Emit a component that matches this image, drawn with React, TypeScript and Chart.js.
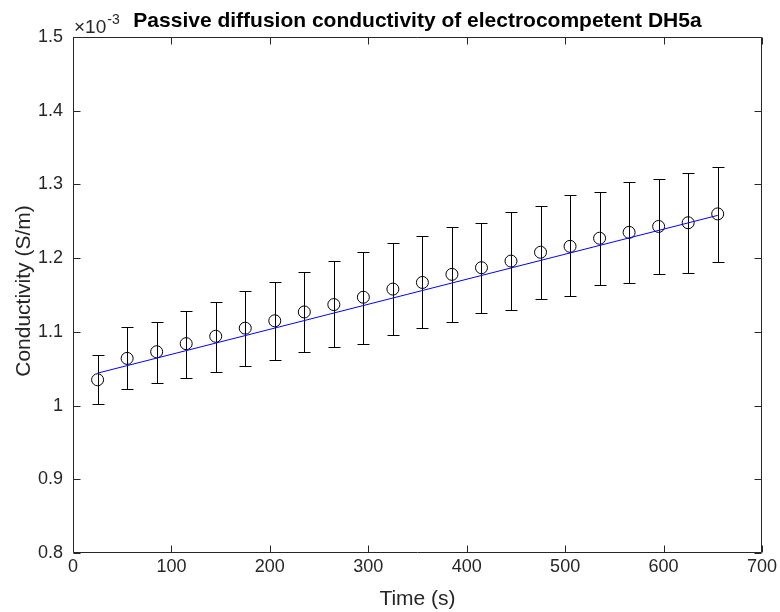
import React, { useEffect, useRef } from "react";
import { Chart, registerables } from "chart.js";

Chart.register(...registerables);

// ---- data (conductivity in units of 1e-3 S/m) ----
const timeS = [25, 55, 85, 115, 145, 175, 205, 235, 265, 295, 325, 355, 385, 415, 445, 475, 505, 535, 565, 595, 625, 655];
const conductivity = [1.035, 1.064, 1.073, 1.084, 1.094, 1.105, 1.115, 1.127, 1.137, 1.147, 1.158, 1.167, 1.178, 1.187, 1.196, 1.208, 1.216, 1.227, 1.235, 1.243, 1.248, 1.260];
const errUpper = [1.068, 1.106, 1.113, 1.128, 1.140, 1.155, 1.168, 1.181, 1.196, 1.208, 1.220, 1.230, 1.242, 1.247, 1.262, 1.271, 1.285, 1.290, 1.303, 1.307, 1.315, 1.323];
const errLower = [1.002, 1.022, 1.031, 1.038, 1.046, 1.054, 1.062, 1.072, 1.079, 1.084, 1.096, 1.105, 1.113, 1.126, 1.129, 1.145, 1.148, 1.163, 1.166, 1.179, 1.180, 1.195];
const fitTime = [25, 655];
const fitConductivity = [1.044, 1.258];
const xTicks = [0, 100, 200, 300, 400, 500, 600, 700];
const yTicks = [0.8, 0.9, 1.0, 1.1, 1.2, 1.3, 1.4, 1.5];

const titleText = "Passive diffusion conductivity of electrocompetent DH5a";
const xLabel = "Time (s)";
const yLabel = "Conductivity (S/m)";
const exponentBase = "\u00d710";
const exponentPow = "-3";

const FONT = "'Liberation Sans', Arial, Helvetica, sans-serif";
const AXIS_COLOR = "#262626";

const matlabDecor = {
  id: "matlabDecor",
  beforeDatasetsDraw(chart: any) {
    const { ctx, chartArea, scales } = chart;
    const xs = scales.x;
    const ys = scales.y;
    ctx.save();
    ctx.beginPath();
    ctx.rect(chartArea.left, chartArea.top, chartArea.right - chartArea.left, chartArea.bottom - chartArea.top);
    ctx.clip();
    ctx.strokeStyle = "#000000";
    ctx.lineWidth = 1;
    const cap = 6;
    for (let i = 0; i < timeS.length; i++) {
      const px = Math.round(xs.getPixelForValue(timeS[i])) + 0.5;
      const pt = Math.round(ys.getPixelForValue(errUpper[i])) + 0.5;
      const pb = Math.round(ys.getPixelForValue(errLower[i])) + 0.5;
      ctx.beginPath();
      ctx.moveTo(px, pt);
      ctx.lineTo(px, pb);
      ctx.moveTo(px - cap, pt);
      ctx.lineTo(px + cap, pt);
      ctx.moveTo(px - cap, pb);
      ctx.lineTo(px + cap, pb);
      ctx.stroke();
    }
    ctx.restore();
  },
  afterDraw(chart: any) {
    const { ctx, chartArea, scales } = chart;
    const { left, right, top, bottom } = chartArea;
    const xs = scales.x;
    const ys = scales.y;
    ctx.save();
    ctx.strokeStyle = AXIS_COLOR;
    ctx.lineWidth = 1;
    const L = Math.round(left) + 0.5;
    const R = Math.round(right) - 0.5;
    const T = Math.round(top) + 0.5;
    const B = Math.round(bottom) - 0.5;
    ctx.beginPath();
    ctx.rect(L, T, R - L, B - T);
    ctx.stroke();
    const tl = 7;
    ctx.beginPath();
    for (const v of xTicks) {
      const px = Math.round(xs.getPixelForValue(v)) + 0.5;
      ctx.moveTo(px, B);
      ctx.lineTo(px, B - tl);
      ctx.moveTo(px, T);
      ctx.lineTo(px, T + tl);
    }
    for (const v of yTicks) {
      const py = Math.round(ys.getPixelForValue(v)) + 0.5;
      ctx.moveTo(L, py);
      ctx.lineTo(L + tl, py);
      ctx.moveTo(R, py);
      ctx.lineTo(R - tl, py);
    }
    ctx.stroke();

    // title
    ctx.fillStyle = "#000000";
    ctx.font = `bold 21px ${FONT}`;
    ctx.textAlign = "center";
    ctx.textBaseline = "alphabetic";
    ctx.fillText(titleText, (left + right) / 2, 27);

    // exponent
    ctx.fillStyle = AXIS_COLOR;
    ctx.textAlign = "left";
    ctx.font = `19px ${FONT}`;
    ctx.fillText(exponentBase, left + 1, 33);
    const w = ctx.measureText(exponentBase).width;
    ctx.font = `14px ${FONT}`;
    ctx.fillText(exponentPow, left + 1 + w + 1, 24);

    // axis titles
    ctx.font = `21px ${FONT}`;
    ctx.textAlign = "center";
    ctx.textBaseline = "alphabetic";
    ctx.fillText(xLabel, (left + right) / 2, 605);
    ctx.save();
    ctx.translate(30, (top + bottom) / 2 - 4);
    ctx.rotate(-Math.PI / 2);
    ctx.fillText(yLabel, 0, 0);
    ctx.restore();
    ctx.restore();
  },
};

export default function App() {
  const canvasRef = useRef<HTMLCanvasElement | null>(null);

  useEffect(() => {
    const canvas = canvasRef.current;
    if (!canvas) return;
    const chart = new Chart(canvas, {
      type: "line",
      data: {
        datasets: [
          {
            label: "fit",
            data: fitTime.map((t, i) => ({ x: t, y: fitConductivity[i] })),
            borderColor: "#0000ff",
            borderWidth: 1,
            pointRadius: 0,
            fill: false,
          },
          {
            label: "data",
            data: timeS.map((t, i) => ({ x: t, y: conductivity[i] })),
            showLine: false,
            pointRadius: 6,
            pointBorderWidth: 1,
            pointBorderColor: "#000000",
            pointBackgroundColor: "rgba(0,0,0,0)",
          },
        ],
      },
      options: {
        responsive: false,
        animation: false,
        devicePixelRatio: 1,
        layout: { padding: { top: 37, right: 18, left: 0, bottom: 0 } },
        plugins: {
          legend: { display: false },
          tooltip: { enabled: false },
          title: { display: false },
        },
        scales: {
          x: {
            type: "linear",
            min: 0,
            max: 700,
            grid: { display: false, drawTicks: false },
            border: { display: false },
            afterBuildTicks: (scale: any) => {
              scale.ticks = xTicks.map((v) => ({ value: v }));
            },
            afterFit: (scale: any) => {
              scale.height = 59;
            },
            ticks: {
              color: AXIS_COLOR,
              font: { family: FONT, size: 18 },
              padding: 3,
              maxRotation: 0,
              autoSkip: false,
              callback: (v: any) => String(v),
            },
          },
          y: {
            type: "linear",
            min: 0.8,
            max: 1.5,
            grid: { display: false, drawTicks: false },
            border: { display: false },
            afterBuildTicks: (scale: any) => {
              scale.ticks = yTicks.map((v) => ({ value: v }));
            },
            afterFit: (scale: any) => {
              scale.width = 73;
            },
            ticks: {
              color: AXIS_COLOR,
              font: { family: FONT, size: 18 },
              padding: 10,
              autoSkip: false,
              callback: (v: any) => String(Math.round(Number(v) * 10) / 10),
            },
          },
        },
      },
      plugins: [matlabDecor],
    } as any);
    return () => chart.destroy();
  }, []);

  return (
    <div style={{ position: "absolute", left: 0, top: 0, width: 780, height: 612, background: "#ffffff" }}>
      <canvas ref={canvasRef} width={780} height={612} style={{ width: 780, height: 612, display: "block" }} />
    </div>
  );
}
